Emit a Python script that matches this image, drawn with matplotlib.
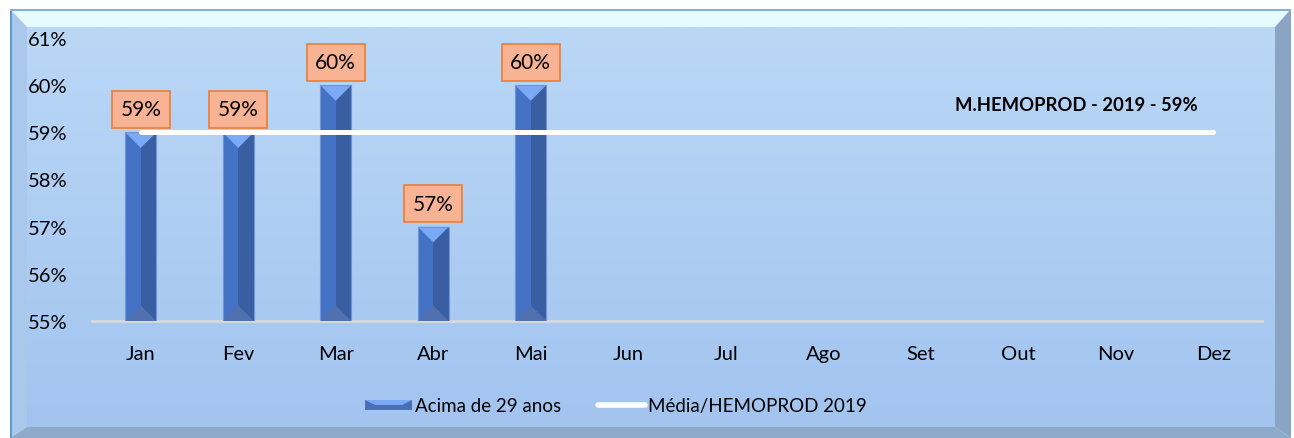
import numpy as np
import matplotlib
matplotlib.use("Agg")
import matplotlib.pyplot as plt
from matplotlib.patches import Polygon, Rectangle
from matplotlib.lines import Line2D
from matplotlib.legend_handler import HandlerBase
from matplotlib.colors import LinearSegmentedColormap

plt.rcParams['font.family'] = ['Lato', 'DejaVu Sans']

# data
months = ["Jan", "Fev", "Mar", "Abr", "Mai", "Jun", "Jul", "Ago", "Set", "Out", "Nov", "Dez"]
values = [59, 59, 60, 57, 60]
media = 59
bar_label = "Acima de 29 anos"
line_label = "Média/HEMOPROD 2019"
media_text = "M.HEMOPROD - 2019 - 59%"

W, H = 1294, 439
fig = plt.figure(figsize=(W / 100, H / 100), dpi=100)
fig.patch.set_facecolor("white")

def fx(px):
    return px / W

def fy(py):
    return 1 - py / H

# -------- frame with bevel --------
L, T, R, B = 10, 10, 1291, 439
bw_l, bw_t, bw_r, bw_b = 17, 18, 16, 11
bg = fig.add_axes([fx(L + bw_l), fy(B - bw_b), fx(R - bw_r - L - bw_l), (B - bw_b - T - bw_t) / H])
grad = np.linspace(0, 1, 256).reshape(-1, 1)
cmap = LinearSegmentedColormap.from_list("bg", ["#bad7f6", "#a2c4ef"])
bg.imshow(grad, aspect="auto", cmap=cmap, extent=[0, 1, 0, 1], origin="upper")
bg.set_axis_off()

def poly(pts, color):
    fig.patches.append(Polygon([(fx(x), fy(y)) for x, y in pts], closed=True,
                               transform=fig.transFigure, facecolor=color,
                               edgecolor="none", zorder=0))

poly([(L, T), (R, T), (R - bw_r, T + bw_t), (L + bw_l, T + bw_t)], "#e6fbfe")
poly([(L, T), (L + bw_l, T + bw_t), (L + bw_l, B - bw_b), (L, B)], "#a9c8ec")
poly([(R, T), (R, B), (R - bw_r, B - bw_b), (R - bw_r, T + bw_t)], "#8aa4c4")
poly([(L, B), (L + bw_l, B - bw_b), (R - bw_r, B - bw_b), (R, B)], "#8eaacb")
fig.patches.append(Rectangle((fx(L), fy(B)), fx(1.5), (B - T) / H, transform=fig.transFigure,
                             facecolor="#5b9bd5", edgecolor="none", zorder=1))
fig.patches.append(Rectangle((fx(L), fy(T + 1.5)), fx(R - L), 1.5 / H, transform=fig.transFigure,
                             facecolor="#7fb0e0", edgecolor="none", zorder=1))

# -------- main axes --------
ax_l, ax_r, ax_top, ax_bot = 92, 1262, 39, 322
ax = fig.add_axes([fx(ax_l), fy(ax_bot), fx(ax_r - ax_l), (ax_bot - ax_top) / H])
ax.patch.set_alpha(0)
ax.set_xlim(-0.5, len(months) - 0.5)
ax.set_ylim(55, 61)

bw = 0.32
ymin = 55
px_per_x = (ax_r - ax_l) / len(months)
px_per_y = (ax_bot - ax_top) / 6
tri_h = (bw / 2) * px_per_x / px_per_y  # 45 degree bevel in data units
for i, v in enumerate(values):
    x0, x1, xc = i - bw / 2, i + bw / 2, i
    ax.add_patch(Polygon([(x0, ymin), (xc, ymin), (xc, v), (x0, v)], facecolor="#4472c4", edgecolor="none", zorder=3))
    ax.add_patch(Polygon([(xc, ymin), (x1, ymin), (x1, v), (xc, v)], facecolor="#3a5ea2", edgecolor="none", zorder=3))
    ax.add_patch(Polygon([(x0, v), (x1, v), (xc, v - tri_h)], facecolor="#7aa9f6", edgecolor="none", zorder=4))
    ax.add_patch(Polygon([(x0, ymin), (x1, ymin), (xc, ymin + tri_h)], facecolor="#5070af", edgecolor="none", zorder=4))
    ax.add_patch(Rectangle((x0, ymin), bw, v - ymin, facecolor="none", edgecolor="#6f95d6", lw=0.8, zorder=5))
    ax.annotate(f"{v}%", (i, v), xytext=(0, 16.5), textcoords="offset points", ha="center", va="center",
                fontsize=15, color="black", zorder=7,
                bbox=dict(boxstyle="square,pad=0.4", facecolor="#f8b394", edgecolor="#ed7d31", lw=1.2))

ax.plot([0, len(months) - 1], [media, media], color="white", lw=3.6, solid_capstyle="round", zorder=6)
ax.text(9.6, 59.6, media_text, ha="center", va="center", fontsize=13.3, fontweight="bold", color="black")

ax.set_xticks(range(len(months)))
ax.set_xticklabels(months, fontsize=14.5)
ax.set_yticks(range(55, 62))
ax.set_yticklabels([f"{t}%" for t in range(55, 62)], fontsize=14.5)
ax.tick_params(length=0)
ax.tick_params(axis="x", pad=17)
ax.tick_params(axis="y", pad=0)
for lab in ax.get_yticklabels():
    lab.set_horizontalalignment("left")
    lab.set_x(-0.055)
for s in ["top", "right", "left"]:
    ax.spines[s].set_visible(False)
ax.spines["bottom"].set_color("#d9d9d9")
ax.spines["bottom"].set_linewidth(2)


class BarHandler(HandlerBase):
    def create_artists(self, legend, orig, xd, yd, width, height, fontsize, trans):
        h = height * 0.75
        y0 = yd + (height - h) / 2
        b = h
        arts = [
            Rectangle((xd, y0), width, h, facecolor="#4a6fb5", edgecolor="none", transform=trans),
            Polygon([(xd, y0 + h), (xd + width, y0 + h), (xd + width - b, y0 + h / 2), (xd + b, y0 + h / 2)],
                    facecolor="#7aa9f6", edgecolor="none", transform=trans),
        ]
        return arts


bar_h = Rectangle((0, 0), 1, 1)
line_h = Line2D([0], [0], color="white", lw=4, solid_capstyle="round")
leg = fig.legend([bar_h, line_h], [bar_label, line_label], loc="center",
                 bbox_to_anchor=(fx(616), fy(407)), ncol=2, frameon=False, fontsize=13.5,
                 handler_map={Rectangle: BarHandler()}, handlelength=2.5, handletextpad=0.15,
                 columnspacing=2.0)

fig.savefig("out.png", dpi=100)
